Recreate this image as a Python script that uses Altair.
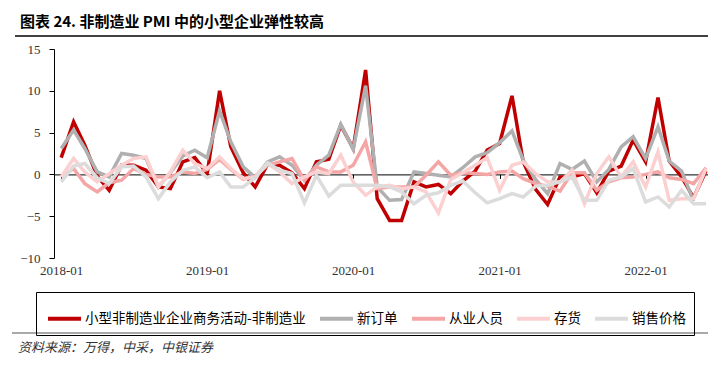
import altair as alt
import pandas as pd

# ---------------- data ----------------
months = pd.date_range("2018-01-01", periods=54, freq="MS").strftime("%Y-%m-%dT00:00:00").tolist()

names = ["小型非制造业企业商务活动-非制造业", "新订单", "从业人员", "存货", "销售价格"]
colors = ["#C00000", "#B0B0B0", "#F4A6A6", "#FCD0D0", "#DCDCDC"]

small_activity = [2.0, 6.3, 3.5, -0.2, -1.9, 1.1, 1.1, 0.5, -1.5, -1.7, 1.5, 2.0,
                  0.1, 10.0, 3.3, 0.2, -1.5, 1.2, 1.1, 0.2, -1.7, 1.5, 1.8, 5.9,
                  3.1, 12.5, -2.9, -5.5, -5.5, -0.9, -1.5, -1.2, -2.3, -0.8, 0.4, 2.9,
                  3.7, 9.4, 1.5, -1.8, -3.6, -0.3, -0.3, 0.1, -2.2, 0.4, 1.0, 4.1,
                  1.5, 9.2, 1.6, -0.3, -2.8, 0.4]
new_orders = [3.1, 5.3, 3.1, 0.3, -0.3, 2.5, 2.3, 1.9, -1.5, 0.2, 2.2, 2.9,
              2.0, 7.6, 3.9, 0.9, -0.4, 1.5, 2.1, 1.1, -0.7, 1.1, 2.3, 6.0,
              3.0, 10.6, -1.5, -3.1, -3.0, 0.3, 0.1, -0.1, -0.3, 0.8, 2.1, 2.6,
              3.8, 5.2, 1.7, -0.6, -2.3, 1.3, 0.6, 1.6, -0.9, 0.6, 3.3, 4.5,
              1.9, 5.7, 1.6, 0.4, -3.2, None]
employment = [-0.3, 0.7, -1.1, -2.1, -1.0, -0.7, 0.7, 0.0, -0.3, -0.3, 0.3, 0.1,
              0.6, 1.8, 0.6, -0.6, -0.2, 1.1, 1.5, 1.9, -0.7, 0.9, 0.3, 0.3,
              1.1, 3.9, -1.7, -1.5, -1.5, -1.5, -0.1, 1.5, -0.1, 0.2, 0.1, 0.0,
              0.3, 0.4, -0.5, -1.1, -1.4, -2.0, 0.2, 0.2, -1.9, -0.9, -0.4, -0.3,
              0.0, 0.3, -0.4, -0.6, -1.1, 0.8]
inventory = [-0.3, 1.9, 0.3, -0.9, 0.1, 1.1, 1.9, 2.1, -1.5, 0.3, 2.9, 1.3,
             0.7, 2.1, 0.7, -0.5, -0.3, 1.3, 0.3, -1.1, -0.3, 0.3, 0.1, 2.3,
             -0.9, -2.5, -1.5, -1.3, -1.7, -1.5, -2.1, -4.6, -0.6, 0.2, 1.1, 2.0,
             -1.9, 1.1, 1.5, 0.1, -0.9, -0.9, 0.5, -3.5, 0.1, 2.1, -0.3, 1.5,
             -1.5, 2.7, -3.1, -2.9, -2.9, 0.7]
sales_price = [-0.9, 1.0, 1.3, -0.4, -1.1, 0.9, 1.0, -0.3, -2.9, -0.9, 0.5, 0.9,
               -0.4, 0.3, -1.5, -1.5, -0.4, 1.4, 0.5, 0.1, -3.4, -0.1, -2.6, -1.3,
               -1.3, -1.3, -1.3, -1.5, -2.1, -3.5, -2.5, -2.2, -1.3, -0.8, -2.2, -3.4,
               -2.9, -2.3, -2.7, -1.4, -1.3, -0.9, -0.3, -3.1, -3.1, -0.7, -0.3, 0.7,
               -3.3, -2.7, -3.9, -1.9, -3.5, -3.5]

series_values = [small_activity, new_orders, employment, inventory, sales_price]

y_ticks = [-10, -5, 0, 5, 10, 15]
x_tick_years = [2018, 2019, 2020, 2021, 2022]

title_text = "图表 24.  非制造业 PMI 中的小型企业弹性较高"
source_text = "资料来源：万得，中采，中银证券"

rows = []
for name, vals in zip(names, series_values):
    for m, v in zip(months, vals):
        if v is not None:
            rows.append({"date": m, "series": name, "value": v})
df = pd.DataFrame(rows)

CJK = "Noto Sans CJK SC"
SERIF = "Liberation Serif"

W, H = 654, 209
zero_px = H * 15 / 25.0

lines = alt.Chart(df).mark_line(strokeWidth=3.5).encode(
    x=alt.X(
        "date:T",
        scale=alt.Scale(domain=[alt.DateTime(year=2017, month=12, date=14),
                                alt.DateTime(year=2022, month=6, date=6)]),
        axis=alt.Axis(
            title=None,
            values=[alt.DateTime(year=y, month=1, date=1) for y in x_tick_years],
            format="%Y-%m",
            offset=-(H - zero_px),
            domainColor="black",
            domainWidth=1,
            tickColor="black",
            tickSize=4,
            labelPadding=86,
            labelFont=SERIF,
            labelFontSize=13,
            labelColor="#333333",
            grid=False,
        ),
    ),
    y=alt.Y(
        "value:Q",
        scale=alt.Scale(domain=[-10, 15], nice=False),
        axis=alt.Axis(
            title=None,
            values=y_ticks,
            domainColor="black",
            tickColor="black",
            tickSize=5,
            labelPadding=9,
            labelFont=SERIF,
            labelFontSize=13,
            labelColor="#333333",
            grid=False,
        ),
    ),
    color=alt.Color(
        "series:N",
        sort=names,
        scale=alt.Scale(domain=names, range=colors),
        legend=alt.Legend(
            title=None,
            orient="none",
            legendX=-18,
            legendY=243,
            direction="horizontal",
            columns=5,
            gridAlign="each",
            strokeColor="black",
            padding=8,
            symbolType="stroke",
            symbolSize=1089,
            symbolStrokeWidth=4,
            symbolOffset=2,
            labelFont=CJK,
            labelFontSize=13.5,
            labelColor="black",
            labelLimit=0,
            labelOffset=2,
            columnPadding=6,
        ),
    ),
)

one = pd.DataFrame({"k": [0]})

title_rule = alt.Chart(one).mark_rule(color="black", strokeWidth=1.5).encode(
    x=alt.value(-39), x2=alt.value(W), y=alt.value(-13)
)
sep_rule = alt.Chart(one).mark_rule(color="#8c8c8c", strokeWidth=1.5).encode(
    x=alt.value(-42), x2=alt.value(W), y=alt.value(284)
)
title_mark = alt.Chart(pd.DataFrame({"t": [title_text]})).mark_text(
    align="left", baseline="alphabetic", font=CJK, fontSize=15, fontWeight="bold", color="black"
).encode(x=alt.value(-34), y=alt.value(-22), text="t:N")
source_mark = alt.Chart(pd.DataFrame({"t": [source_text]})).mark_text(
    align="left", baseline="alphabetic", font=CJK, fontSize=13, fontStyle="italic", color="#333333"
).encode(x=alt.value(-36), y=alt.value(303), text="t:N")

chart = alt.layer(lines, title_rule, sep_rule, title_mark, source_mark).properties(
    width=W,
    height=H,
    autosize=alt.AutoSizeParams(type="none"),
    padding={"left": 46, "top": 41, "right": 0, "bottom": 98},
).configure_view(stroke=None)

chart.save("out.html", embed_options={"renderer": "svg", "actions": False})
